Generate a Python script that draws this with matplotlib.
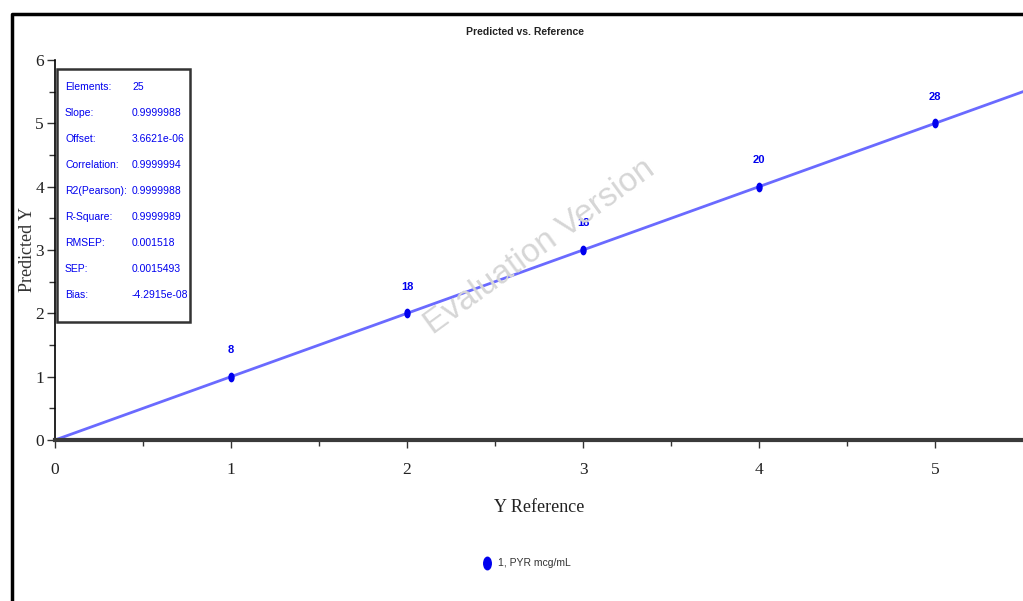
import numpy as np
import matplotlib.pyplot as plt
from matplotlib.markers import MarkerStyle
from matplotlib.transforms import Affine2D
from matplotlib.patches import Rectangle
from matplotlib.lines import Line2D

# data
y_reference = [1, 2, 3, 4, 5]
y_predicted = [1, 2, 3, 4, 5]
point_labels = ['8', '18', '18', '20', '28']
slope = 0.9999988
offset = 3.6621e-06
stat_names = ['Elements:', 'Slope:', 'Offset:', 'Correlation:', 'R2(Pearson):',
              'R-Square:', 'RMSEP:', 'SEP:', 'Bias:']
stat_values = ['25', '0.9999988', '3.6621e-06', '0.9999994', '0.9999988',
               '0.9999989', '0.001518', '0.0015493', '-4.2915e-08']
series_name = '1, PYR mcg/mL'

W, H = 1023, 601
def fx(x):
    return x / W
def fy(y):
    return 1 - y / H

fig = plt.figure(figsize=(W / 100, H / 100), dpi=100)
ax = fig.add_axes([fx(55), fy(440), 1 - fx(55), (440 - 60) / H])

blue = '#0000ee'
line_x = np.array([0, 5.6])
ax.plot(line_x, slope * line_x + offset, color='#6a6aff', lw=2, zorder=2)
ell = MarkerStyle('o', transform=Affine2D().scale(0.6, 1.0))
ax.plot(y_reference, y_predicted, ls='none', marker=ell, ms=6, color=blue, zorder=3)
for xr, yp, lab in zip(y_reference, y_predicted, point_labels):
    ax.text(xr, yp + 0.42, lab, color=blue, fontsize=8, fontweight='bold',
            family='Liberation Sans', ha='center', va='center')

ax.set_xlim(0, 5.5)
ax.set_ylim(0, 6)
ax.spines['top'].set_visible(False)
ax.spines['right'].set_visible(False)
ax.spines['bottom'].set_linewidth(3)
ax.spines['bottom'].set_color('#3a3a3a')
ax.spines['left'].set_linewidth(1.2)
ax.set_xticks(range(0, 6))
ax.set_yticks(range(0, 7))
ax.set_xticks(np.arange(0.5, 5.5, 1), minor=True)
ax.set_yticks(np.arange(0.5, 6, 1), minor=True)
ax.tick_params(which='major', length=6, width=1, color='#333333')
ax.tick_params(axis='x', which='major', pad=10)
ax.tick_params(axis='y', which='major', pad=2)
ax.tick_params(which='minor', length=4, width=1, color='#333333')
for lab in ax.get_xticklabels() + ax.get_yticklabels():
    lab.set_family('Liberation Serif')
    lab.set_fontsize(12.5)
    lab.set_color('#222222')

ax.set_xlabel('Y Reference', family='Liberation Serif', fontsize=13, color='#222222')
ax.xaxis.set_label_coords(0.5, -(508 - 440) / 380, transform=ax.transAxes)
ax.xaxis.label.set_va('center')
ax.set_ylabel('Predicted Y', family='Liberation Serif', fontsize=13, color='#333333')
ax.yaxis.set_label_coords(-(55 - 27) / (W - 55), 0.5)
ax.yaxis.label.set_va('center')
fig.text(fx(525), fy(32), 'Predicted vs. Reference', family='Liberation Sans', fontsize=7.5,
         fontweight='bold', ha='center', va='center', color='#222222')

# stats box
fig.add_artist(Rectangle((fx(57), fy(322)), (190 - 57) / W, (322 - 69) / H,
                         transform=fig.transFigure, fill=True, facecolor='white',
                         edgecolor='#333333', lw=1.8, zorder=5))
for i, (nm, val) in enumerate(zip(stat_names, stat_values)):
    yy = 87 + i * 26
    fig.text(fx(65), fy(yy), nm, color=blue, fontsize=7.5, family='Liberation Sans',
             va='center', ha='left', zorder=6)
    fig.text(fx(132), fy(yy), val, color=blue, fontsize=7.5, family='Liberation Sans',
             va='center', ha='left', zorder=6)

# watermark
fig.text(fx(540), fy(247), 'Evaluation Version', color='#d6d6d6', fontsize=24,
         family='Liberation Sans', rotation=36, ha='center', va='center', zorder=1)

# legend
fig.add_artist(Line2D([fx(487)], [fy(563)], marker=ell, ms=9, color=blue, ls='none',
                      transform=fig.transFigure))
fig.text(fx(498), fy(563), series_name, fontsize=7.5, family='Liberation Sans',
         color='#333333', va='center', ha='left')

# outer frame
fig.add_artist(Line2D([fx(12), fx(12), 1.0], [0.0, fy(14), fy(14)], color='black',
                      lw=2.5, transform=fig.transFigure))

fig.savefig('out.png', dpi=100)
